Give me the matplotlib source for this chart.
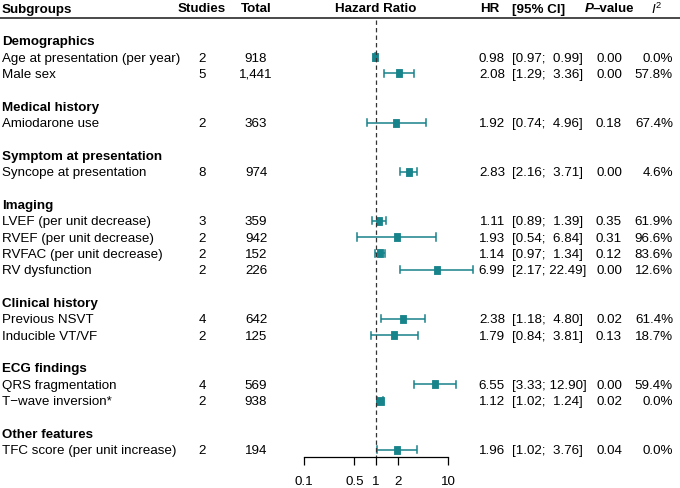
import matplotlib
matplotlib.use("Agg")
import matplotlib.pyplot as plt
import matplotlib.ticker as mticker

# ---------------- data ----------------
groups = ["Demographics", "Medical history", "Symptom at presentation", "Imaging",
          "Clinical history", "ECG findings", "Other features"]
group_sizes = [2, 1, 1, 4, 2, 2, 1]
labels = ["Age at presentation (per year)", "Male sex",
          "Amiodarone use",
          "Syncope at presentation",
          "LVEF (per unit decrease)", "RVEF (per unit decrease)",
          "RVFAC (per unit decrease)", "RV dysfunction",
          "Previous NSVT", "Inducible VT/VF",
          "QRS fragmentation", "T\u2212wave inversion*",
          "TFC score (per unit increase)"]
studies = [2, 5, 2, 8, 3, 2, 2, 2, 4, 2, 4, 2, 2]
totals = [918, 1441, 363, 974, 359, 942, 152, 226, 642, 125, 569, 938, 194]
hr = [0.98, 2.08, 1.92, 2.83, 1.11, 1.93, 1.14, 6.99, 2.38, 1.79, 6.55, 1.12, 1.96]
ci_lo = [0.97, 1.29, 0.74, 2.16, 0.89, 0.54, 0.97, 2.17, 1.18, 0.84, 3.33, 1.02, 1.02]
ci_hi = [0.99, 3.36, 4.96, 3.71, 1.39, 6.84, 1.34, 22.49, 4.80, 3.81, 12.90, 1.24, 3.76]
pvals = [0.00, 0.00, 0.18, 0.00, 0.35, 0.31, 0.12, 0.00, 0.02, 0.13, 0.00, 0.02, 0.04]
i2 = [0.0, 57.8, 67.4, 4.6, 61.9, 96.6, 83.6, 12.6, 61.4, 18.7, 59.4, 0.0, 0.0]
axis_ticks = [0.1, 0.5, 1, 2, 10]
axis_ticklabels = ["0.1", "0.5", "1", "2", "10"]

# ---------------- layout ----------------
W, H = 680, 488
FS = 9.6
TEAL = "#17838a"
plt.rcParams["font.family"] = ["Liberation Sans", "DejaVu Sans"]
plt.rcParams["mathtext.fontset"] = "custom"
plt.rcParams["mathtext.it"] = "Liberation Sans:italic"
plt.rcParams["mathtext.rm"] = "Liberation Sans"

y0, dy = 8.0, 16.36          # pixel y of header row, row height
ylim = ((H - y0) / dy, -y0 / dy)

fig = plt.figure(figsize=(W / 100, H / 100), dpi=100)
tax = fig.add_axes([0, 0, 1, 1])
tax.set_xlim(0, W)
tax.set_ylim(*ylim)
tax.axis("off")

# forest axes: 0.1 -> x=304px, 10 -> x=448px
x01, x10 = 304, 448
fax = fig.add_axes([x01 / W, 0, (x10 - x01) / W, 1], facecolor="none")
fax.set_xscale("log")
fax.set_xlim(0.1, 10)
fax.set_ylim(*ylim)

# columns (pixels)
X_LAB, X_STU, X_TOT, X_HRH, X_HR, X_CI, X_P, X_I2, X_I2H = 2, 202, 256, 376, 505, 512, 609, 673, 657
VA = "center_baseline"

# header
hdr_kw = dict(fontsize=FS, fontweight="bold", va=VA)
tax.text(X_LAB, 0, "Subgroups", ha="left", **hdr_kw)
tax.text(X_STU, 0, "Studies", ha="center", **hdr_kw)
tax.text(X_TOT, 0, "Total", ha="center", **hdr_kw)
tax.text(X_HRH, 0, "Hazard Ratio", ha="center", **hdr_kw)
tax.text(490, 0, "HR", ha="center", **hdr_kw)
tax.text(X_CI, 0, "[95% CI]", ha="left", **hdr_kw)
tax.text(585, 0, "P", ha="left", fontstyle="italic", **hdr_kw)
tax.text(593, 0, "\u2013value", ha="left", **hdr_kw)
tax.text(X_I2H, 0, "$\\mathit{I}^2$", ha="center", fontsize=FS, va=VA)
tax.plot([0, W], [0.62, 0.62], color="#3a3a3a", lw=1.3)

# rows
rows = []
r = 2
for g, n in zip(groups, group_sizes):
    tax.text(X_LAB, r, g, ha="left", va=VA, fontsize=FS, fontweight="bold")
    r += 1
    for _ in range(n):
        rows.append(r)
        r += 1
    r += 1

box_marker = [(-0.33, -0.5), (0.33, -0.5), (0.33, 0.5), (-0.33, 0.5), (-0.33, -0.5)]

for i, rr in enumerate(rows):
    tax.text(X_LAB, rr, labels[i], ha="left", va=VA, fontsize=FS)
    tax.text(X_STU, rr, f"{studies[i]}", ha="center", va=VA, fontsize=FS)
    tax.text(X_TOT, rr, f"{totals[i]:,}", ha="center", va=VA, fontsize=FS)
    tax.text(X_HR, rr, f"{hr[i]:.2f}", ha="right", va=VA, fontsize=FS)
    tax.text(X_CI, rr, f"[{ci_lo[i]:.2f}; {ci_hi[i]:5.2f}]", ha="left", va=VA, fontsize=FS)
    tax.text(X_P, rr, f"{pvals[i]:.2f}", ha="center", va=VA, fontsize=FS)
    tax.text(X_I2, rr, f"{i2[i]:.1f}%", ha="right", va=VA, fontsize=FS)

    fax.plot([ci_lo[i], ci_hi[i]], [rr, rr], color=TEAL, lw=1.1, clip_on=False,
             solid_capstyle="butt")
    for c in (ci_lo[i], ci_hi[i]):
        fax.plot([c, c], [rr - 0.22, rr + 0.22], color=TEAL, lw=1.1, clip_on=False)
    if labels[i].startswith("T\u2212wave"):
        mk, ms = "s", 6.0
    else:
        mk, ms = box_marker, 6.0
    fax.plot([hr[i]], [rr], marker=mk, ms=ms, color=TEAL, mec=TEAL, mew=0.6,
             clip_on=False, linestyle="none")

# reference line at 1
axis_row = (457 - y0) / dy
fax.plot([1, 1], [0.75, axis_row], color="#333333", lw=0.9, ls=(0, (3.5, 2.5)),
         clip_on=False)

# axis
for s in ("top", "left", "right"):
    fax.spines[s].set_visible(False)
fax.spines["bottom"].set_position(("data", axis_row))
fax.spines["bottom"].set_bounds(0.1, 10)
fax.spines["bottom"].set_linewidth(0.9)
fax.set_yticks([])
fax.xaxis.set_major_locator(mticker.FixedLocator(axis_ticks))
fax.xaxis.set_major_formatter(mticker.FixedFormatter(axis_ticklabels))
fax.xaxis.set_minor_locator(mticker.NullLocator())
fax.tick_params(axis="x", direction="out", length=6, width=0.9, labelsize=FS, pad=8)

fig.savefig("out.png", dpi=100)
